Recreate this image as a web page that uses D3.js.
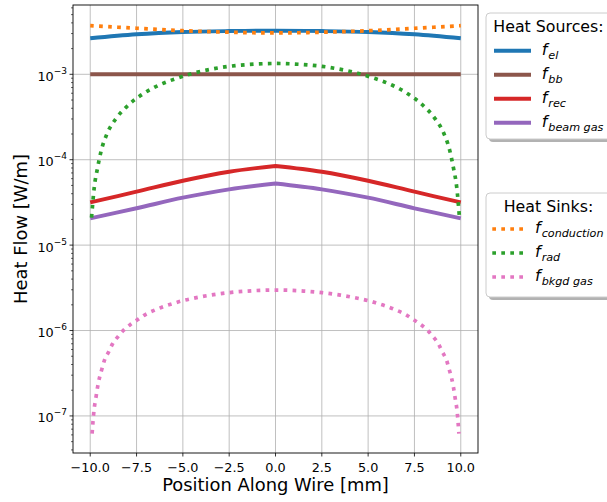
<!DOCTYPE html>
<html><head><meta charset="utf-8">
<script src="https://cdn.jsdelivr.net/npm/d3@7"></script>
<style>body{margin:0;background:#fff}svg{display:block}text{font-family:"DejaVu Sans",sans-serif}</style>
</head><body><svg id="c" width="607" height="502"></svg>
<script>
// ---- data ----
const xSrc = [-10, -7.5, -5, -2.5, 0, 2.5, 5, 7.5, 10];
const fEl = [2.64e-3, 2.94e-3, 3.13e-3, 3.21e-3, 3.24e-3, 3.21e-3, 3.13e-3, 2.94e-3, 2.64e-3];
const fBb = [1.0e-3, 1.0e-3, 1.0e-3, 1.0e-3, 1.0e-3, 1.0e-3, 1.0e-3, 1.0e-3, 1.0e-3];
const fRec = [3.17e-5, 4.22e-5, 5.67e-5, 7.23e-5, 8.45e-5, 7.23e-5, 5.67e-5, 4.22e-5, 3.17e-5];
const fBeamGas = [2.06e-5, 2.70e-5, 3.59e-5, 4.50e-5, 5.26e-5, 4.50e-5, 3.59e-5, 2.70e-5, 2.06e-5];
const fConduction = [3.71e-3, 3.46e-3, 3.24e-3, 3.11e-3, 3.05e-3, 3.11e-3, 3.24e-3, 3.46e-3, 3.71e-3];
const xRad = [-9.93, -9.78, -9.61, -9.41, -9.10, -8.60, -7.94, -7.16, -6.28, -5.33, -4.43, -3.44, -2.51, -1.5, 0,
              1.5, 2.51, 3.44, 4.43, 5.33, 6.28, 7.16, 7.94, 8.60, 9.10, 9.41, 9.61, 9.78, 9.93];
const fRad = [2.1e-5, 4.8e-5, 7.9e-5, 1.27e-4, 2.0e-4, 3.05e-4, 4.37e-4, 5.88e-4, 7.49e-4, 8.98e-4, 1.03e-3, 1.15e-3, 1.24e-3, 1.30e-3, 1.34e-3,
              1.30e-3, 1.24e-3, 1.15e-3, 1.03e-3, 8.98e-4, 7.49e-4, 5.88e-4, 4.37e-4, 3.05e-4, 2.0e-4, 1.27e-4, 7.9e-5, 4.8e-5, 2.1e-5];
const xBkgd = [-9.9, -9.8, -9.7, -9.6, -9.5, -9.37, -9.23, -9.0, -8.8, -8.5, -8.2, -7.8, -7.4, -7.0, -6.5, -6.0, -5.5, -5.0, -4.5, -3.5, -2.5, -1.5, -0.5, 0,
               0.5, 1.5, 2.5, 3.5, 4.5, 5.0, 5.5, 6.0, 6.5, 7.0, 7.4, 7.8, 8.2, 8.5, 8.8, 9.0, 9.23, 9.37, 9.5, 9.6, 9.7, 9.8, 9.9];
const fBkgd = [6.2e-8, 1.15e-7, 1.6e-7, 2.2e-7, 2.8e-7, 3.54e-7, 4.5e-7, 5.65e-7, 6.95e-7, 8.5e-7, 1.01e-6, 1.19e-6, 1.36e-6, 1.55e-6, 1.74e-6, 1.92e-6, 2.08e-6, 2.24e-6, 2.37e-6, 2.6e-6, 2.78e-6, 2.9e-6, 2.97e-6, 2.98e-6,
               2.97e-6, 2.9e-6, 2.78e-6, 2.6e-6, 2.37e-6, 2.24e-6, 2.08e-6, 1.92e-6, 1.74e-6, 1.55e-6, 1.36e-6, 1.19e-6, 1.01e-6, 8.5e-7, 6.95e-7, 5.65e-7, 4.5e-7, 3.54e-7, 2.8e-7, 2.2e-7, 1.6e-7, 1.15e-7, 6.2e-8];
const xTicks = [-10, -7.5, -5, -2.5, 0, 2.5, 5, 7.5, 10];
const yExps = [-7, -6, -5, -4, -3];
const sourceNames = ["el", "bb", "rec", "beam gas"];
const sinkNames = ["conduction", "rad", "bkgd gas"];

// ---- layout ----
const L = 73, R = 478, T = 5, B = 453;
const svg = d3.select("#c");
const x = d3.scaleLinear().domain([-10.93, 10.93]).range([L, R]);
const y = d3.scaleLog().domain([Math.pow(10, -7.434), Math.pow(10, -2.1885)]).range([B, T]);

// grid
const grid = svg.append("g").attr("stroke", "#b0b0b0").attr("stroke-width", 0.8);
xTicks.forEach(t => grid.append("line").attr("x1", x(t)).attr("x2", x(t)).attr("y1", T).attr("y2", B));
yExps.forEach(e => grid.append("line").attr("x1", L).attr("x2", R).attr("y1", y(Math.pow(10, e))).attr("y2", y(Math.pow(10, e))));

// series (peaked = smooth on each side of x=0, sharp at the peak)
const series = [
  {xs: xSrc, v: fEl, c: "#1f77b4", dot: false, curve: d3.curveCatmullRom},
  {xs: xSrc, v: fBb, c: "#8c564b", dot: false, curve: d3.curveLinear},
  {xs: xSrc, v: fRec, c: "#d62728", dot: false, curve: d3.curveCatmullRom, peaked: true},
  {xs: xSrc, v: fBeamGas, c: "#9467bd", dot: false, curve: d3.curveCatmullRom, peaked: true},
  {xs: xSrc, v: fConduction, c: "#ff7f0e", dot: true, curve: d3.curveCatmullRom},
  {xs: xRad, v: fRad, c: "#2ca02c", dot: true, curve: d3.curveMonotoneX},
  {xs: xBkgd, v: fBkgd, c: "#e377c2", dot: true, curve: d3.curveMonotoneX}
];
svg.append("clipPath").attr("id", "pc").append("rect").attr("x", L).attr("y", T).attr("width", R - L).attr("height", B - T);
const pg = svg.append("g").attr("clip-path", "url(#pc)");
series.forEach(s => {
  const pts = s.v.map((d, i) => [s.xs[i], d]);
  const line = d3.line().x(d => x(d[0])).y(d => y(d[1])).curve(s.curve);
  let d;
  if (s.peaked) {
    const left = pts.filter(p => p[0] <= 0), right = pts.filter(p => p[0] >= 0);
    d = line(left) + line(right).replace(/^M/, "L");
  } else d = line(pts);
  pg.append("path").attr("d", d).attr("fill", "none").attr("stroke", s.c)
    .attr("stroke-width", s.dot ? 3.7 : 3.9).attr("stroke-linejoin", "round")
    .attr("stroke-dasharray", s.dot ? "3.7,5.3" : null);
});

// frame
svg.append("rect").attr("x", L).attr("y", T).attr("width", R - L).attr("height", B - T)
  .attr("fill", "none").attr("stroke", "#000").attr("stroke-width", 0.9);

// x ticks
const fmt = d3.format(".1f");
xTicks.forEach(t => {
  svg.append("line").attr("x1", x(t)).attr("x2", x(t)).attr("y1", B).attr("y2", B + 3.5).attr("stroke", "#000").attr("stroke-width", 0.8);
  svg.append("text").attr("x", x(t)).attr("y", 471.5).attr("text-anchor", "middle").attr("font-size", 12.8)
    .text(fmt(t).replace("-", "\u2212"));
});
// y ticks
yExps.forEach(e => {
  const yy = y(Math.pow(10, e));
  svg.append("line").attr("x1", L - 3.5).attr("x2", L).attr("y1", yy).attr("y2", yy).attr("stroke", "#000").attr("stroke-width", 0.8);
  const tx = svg.append("text").attr("x", 67).attr("y", yy + 6.5).attr("text-anchor", "end").attr("font-size", 12.8);
  tx.append("tspan").text("10");
  tx.append("tspan").attr("dy", -7).attr("font-size", 9).text("\u2212" + (-e));
});
// minor y ticks
for (let e = -8; e <= -2; e++) {
  for (let k = 2; k <= 9; k++) {
    const yy = y(k * Math.pow(10, e));
    if (yy < T - 0.5 || yy > B + 0.5) continue;
    svg.append("line").attr("x1", L - 2).attr("x2", L).attr("y1", yy).attr("y2", yy).attr("stroke", "#000").attr("stroke-width", 0.6);
  }
}

// axis labels
svg.append("text").attr("x", (L + R) / 2).attr("y", 491).attr("text-anchor", "middle").attr("font-size", 17.9).text("Position Along Wire [mm]");
svg.append("text").attr("transform", "translate(26.5," + ((T + B) / 2) + ") rotate(-90)").attr("text-anchor", "middle").attr("font-size", 17.9).text("Heat Flow [W/m]");

// legends
function legend(top, h, title, names, cols, dotted, hx0, hx1, lx, titleY, row0) {
  const g = svg.append("g");
  g.append("rect").attr("x", 489).attr("y", top + 3).attr("width", 125).attr("height", h).attr("rx", 4).attr("fill", "#000").attr("opacity", 0.3);
  g.append("rect").attr("x", 486).attr("y", top).attr("width", 125).attr("height", h).attr("rx", 4)
    .attr("fill", "#fff").attr("stroke", "#ccc").attr("stroke-width", 1);
  g.append("text").attr("x", 548.5).attr("y", titleY).attr("text-anchor", "middle").attr("font-size", 15.8).text(title);
  names.forEach((n, i) => {
    const yy = row0 + 24 * i;
    g.append("line").attr("x1", hx0).attr("x2", hx1).attr("y1", yy).attr("y2", yy).attr("stroke", cols[i])
      .attr("stroke-width", dotted ? 3.7 : 3.9).attr("stroke-dasharray", dotted ? "3.7,5.3" : null);
    const t = g.append("text").attr("x", lx).attr("y", yy + 4).attr("font-size", 16).attr("font-style", "italic");
    t.append("tspan").text("f");
    t.append("tspan").attr("dx", 1).attr("dy", 4).attr("font-size", 11.2).text(n);
  });
}
legend(13, 126, "Heat Sources:", sourceNames, ["#1f77b4", "#8c564b", "#d62728", "#9467bd"], false, 494, 531, 541.7, 31.7, 50.7);
legend(193, 104, "Heat Sinks:", sinkNames, ["#ff7f0e", "#2ca02c", "#e377c2"], true, 492.3, 527, 535, 211.7, 229);
</script></body></html>
